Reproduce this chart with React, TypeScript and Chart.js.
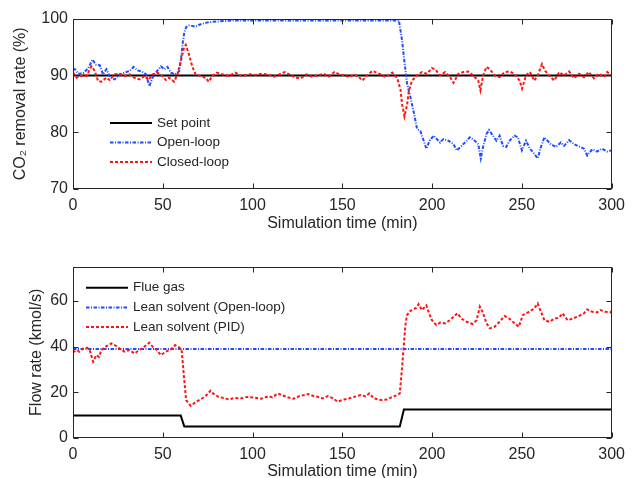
import React, { useEffect, useRef } from 'react';
import { Chart, registerables } from 'chart.js';

Chart.register(...registerables);

// ---------- data ----------
const X_TICKS = [0, 50, 100, 150, 200, 250, 300];
const Y1_TICKS = [70, 80, 90, 100];
const Y2_TICKS = [0, 20, 40, 60];

// top panel: CO2 removal rate (%) vs simulation time (min)
const SET_POINT: [number, number][] = [[0, 90], [300, 90]];

const OPEN_LOOP: [number, number][] = [
  [0, 91.0], [1, 91.1], [3, 90.3], [5.7, 90.4], [8.5, 91.3], [10.9, 92.8], [12.7, 91.9], [14.9, 91.8],
  [16.7, 90.2], [18.6, 91.1], [20.8, 89.6], [23.2, 89.3], [26, 90.2], [28.7, 90.5], [31.5, 90.8],
  [33.7, 91.5], [36, 90.9], [38.4, 90.7], [40.7, 90.2], [42.5, 88.1], [44.3, 89.6], [46.6, 90.7],
  [49, 91.6], [50.8, 91.1], [52.6, 91.5], [54.5, 90.5], [56.9, 90.2], [58.2, 90.5], [59.2, 90.8],
  [60.2, 93.0], [61, 95.5], [62, 97.6], [63, 98.5], [64.6, 98.8], [66.5, 98.7], [68.3, 98.6],
  [70, 98.9], [72, 99.1], [75.6, 99.4], [80, 99.5], [85, 99.6], [90, 99.7], [120, 99.7],
  [150, 99.7], [181.5, 99.7], [183.3, 96.1], [184.2, 93.5], [185.2, 90.8], [186.1, 88.5],
  [187.9, 86.2], [189.8, 83.5], [191.6, 80.6], [193.5, 80.2], [195.3, 78.5], [196.8, 77.1],
  [198.6, 78.5], [200.8, 79.4], [202.6, 78.8], [204.5, 78.2], [206.3, 78.8], [209.1, 78.5],
  [211.9, 77.9], [213.7, 76.8], [216.5, 77.6], [219.2, 78.5], [221, 79.1], [223.8, 78.5],
  [225.7, 77.9], [227.1, 75.4], [228.4, 77.4], [230.3, 79.7], [231.7, 80.4], [233.9, 79.4],
  [235.8, 78.5], [237.6, 79.4], [239.5, 77.6], [241.3, 77.4], [243.1, 78.5], [245.9, 79.4],
  [247.8, 79.1], [250, 76.8], [252.3, 78.5], [254.5, 77.1], [256.9, 76.2], [258.8, 75.4],
  [260.6, 77.4], [262.5, 79.1], [264.3, 78.5], [266.1, 77.9], [268.9, 77.4], [271.7, 78.2],
  [273.5, 77.6], [276.3, 78.6], [279, 77.9], [281.8, 77.5], [284.6, 77.1], [286.4, 75.9],
  [289.2, 77.0], [291.9, 76.6], [294.7, 77.1], [297.5, 76.6], [300, 76.8],
];

const CLOSED_LOOP: [number, number][] = [
  [0, 90.5], [2, 89.6], [4.6, 90.0], [7.4, 89.9], [10.3, 91.6], [12.1, 90.8], [14, 89.0], [15.8, 88.9],
  [18.6, 89.6], [20.4, 89.2], [23.2, 90.2], [26, 90.3], [28.7, 89.9], [31.5, 90.2], [34.2, 89.6],
  [37, 89.3], [39.8, 89.9], [42.1, 89.2], [44.3, 90.2], [47.1, 90.5], [49.8, 89.9], [51.7, 89.2],
  [53.5, 89.6], [56.3, 88.9], [58.2, 90.2], [60, 92.5], [61.8, 94.9], [62.8, 95.4], [64.6, 93.7],
  [66.4, 91.6], [68.3, 90.2], [71, 89.9], [73.8, 89.6], [75.6, 88.9], [77.5, 89.9], [80.2, 90.5],
  [83, 90.2], [86.7, 89.9], [90.4, 90.5], [94, 89.9], [97.8, 90.2], [101.5, 90.1], [105.2, 90.3],
  [108.8, 90.1], [112, 89.8], [115, 90.2], [118, 90.6], [121, 90.1], [124, 89.6], [127, 89.5],
  [130, 90.2], [133, 89.8], [136.4, 90.0], [139.5, 90.3], [142.5, 89.8], [145.6, 90.6], [148.5, 90.2],
  [151.5, 90.0], [154, 89.7], [156.6, 90.2], [159, 89.8], [161.2, 89.1], [164, 90.1], [166.8, 90.8],
  [170.5, 90.3], [174.2, 89.7], [177.8, 90.5], [180.6, 89.5], [182.4, 87.5], [183.3, 84.9],
  [184.6, 82.8], [186.1, 84.9], [187, 87.2], [188.8, 89.1], [191.6, 90.0], [194.3, 90.6],
  [197.1, 90.3], [199.9, 91.3], [201.7, 91.1], [204.5, 90.0], [207.2, 90.6], [210, 89.7],
  [211.9, 88.7], [214.6, 90.3], [217.4, 90.6], [220.1, 90.7], [222.9, 90.0], [225.7, 89.1],
  [226.9, 87.4], [228.4, 90.0], [230.3, 91.5], [232.1, 91.1], [234.8, 90.0], [237.6, 89.7],
  [240.4, 90.6], [243.1, 90.7], [245.9, 90.3], [248.7, 89.1], [250.1, 87.7], [252.3, 90.0],
  [254.5, 90.6], [256.9, 89.1], [258.8, 90.0], [261.2, 92.0], [263, 90.8], [265.2, 90.0],
  [268, 89.1], [270.8, 90.6], [273.5, 90.0], [276.3, 90.7], [279, 89.5], [281.8, 90.3],
  [284.6, 89.7], [287.3, 90.6], [290.1, 89.5], [292.9, 90.3], [295.6, 89.7], [297.5, 90.6], [300, 90.0],
];

// bottom panel: flow rate (kmol/s) vs simulation time (min)
const FLUE_GAS: [number, number][] = [[0, 9.8], [60, 9.8], [62, 5.0], [182, 5.0], [184.3, 12.5], [300, 12.5]];
const LEAN_OPEN: [number, number][] = [[0, 39], [300, 39]];
const LEAN_PID: [number, number][] = [
  [0, 37.5], [2, 38.5], [3.5, 37.8], [5.7, 39.2], [8, 39.5], [9.5, 38.0], [11.2, 33.4], [13, 36.3],
  [14.5, 35.5], [15.8, 38.5], [18.8, 40.3], [21.3, 41.4], [23.2, 40.7], [26, 39.2], [28.7, 37.8],
  [31.5, 38.5], [34.2, 37.0], [37, 38.5], [39.8, 40.0], [42.5, 41.7], [44.3, 40.0], [46.6, 38.5],
  [49, 36.3], [51.7, 37.8], [54.5, 38.8], [56.9, 40.7], [59, 39.7], [60.5, 38.5], [61.8, 26.8],
  [63, 16.6], [65.5, 14.1], [68, 15.5], [70, 16.5], [72, 17.4], [74, 18.5], [76.6, 20.7], [78, 19.5],
  [81, 18.0], [84, 17.5], [86.7, 16.9], [90, 17.5], [94, 17.4], [97, 18.0], [101, 17.7], [105, 17.2],
  [108.8, 18.3], [111, 17.8], [114, 19.5], [117, 18.6], [120, 17.7], [123, 17.2], [126, 18.3],
  [131, 19.2], [133.5, 18.5], [136.4, 18.0], [139, 17.3], [141.9, 18.3], [144.5, 17.5], [147.4, 15.9],
  [151, 16.9], [154, 17.4], [156.6, 18.0], [160.3, 18.8], [163, 18.2], [165, 19.5], [167.7, 17.3],
  [171.4, 16.6], [175, 16.9], [177.8, 18.0], [180.6, 18.8], [182, 19.5], [183.3, 31.2], [184.2, 40.0],
  [185, 48.7], [186, 53.8], [187.9, 55.7], [189.5, 56.2], [191.6, 57.2], [192.5, 58.6], [194.3, 56.0],
  [196.8, 58.1], [198, 55.3], [199.9, 51.6], [202.3, 49.5], [204.5, 50.5], [207.2, 50.2], [210, 51.6],
  [211.9, 53.1], [214.1, 54.6], [216.5, 52.2], [219.2, 50.9], [222.5, 49.9], [224.8, 51.6],
  [226.6, 57.5], [228.4, 54.6], [230.3, 50.2], [232.1, 48.0], [234.8, 48.7], [237.6, 50.9],
  [240.4, 53.4], [243.1, 52.2], [245.9, 50.2], [248.3, 48.7], [250.5, 53.8], [252.3, 54.6],
  [254.2, 55.3], [256.9, 56.7], [258.8, 58.9], [260.6, 55.3], [262.5, 51.6], [265.2, 50.9],
  [268, 52.2], [270.8, 52.7], [272.6, 54.6], [275.4, 51.6], [278.1, 52.2], [281.8, 53.4],
  [284.6, 54.6], [286.4, 56.3], [289.2, 55.3], [291.9, 55.0], [293.7, 56.0], [296.5, 55.3],
  [299.3, 55.0], [300, 55.5],
];

// ---------- styling ----------
const FONT = '"Liberation Sans", Arial, Helvetica, sans-serif';
const INK = '#262626';
const BLUE = '#1f4dff';
const RED = '#ff1414';
const BLUE_DASH = [3.5, 1.5, 1, 1.5];
const RED_DASH = [3, 2];

const toXY = (arr: [number, number][]) => arr.map(([x, y]) => ({ x, y }));

const framePlugin = {
  id: 'frame',
  afterDraw(chart: any, _args: any, opts: any) {
    const { ctx, chartArea: a, scales } = chart;
    const L = Math.round(a.left) + 0.5;
    const R = Math.round(a.right) - 0.5;
    const T = Math.round(a.top) + 0.5;
    const B = Math.round(a.bottom) - 0.5;
    ctx.save();
    ctx.strokeStyle = INK;
    ctx.lineWidth = 1;
    ctx.setLineDash([]);
    ctx.strokeRect(L, T, R - L, B - T);
    const tl = 5;
    ctx.beginPath();
    for (const t of scales.x.ticks) {
      const px = Math.round(scales.x.getPixelForValue(t.value)) + 0.5;
      ctx.moveTo(px, B); ctx.lineTo(px, B - tl);
      ctx.moveTo(px, T); ctx.lineTo(px, T + tl);
    }
    for (const t of scales.y.ticks) {
      const py = Math.round(scales.y.getPixelForValue(t.value)) + 0.5;
      ctx.moveTo(L, py); ctx.lineTo(L + tl, py);
      ctx.moveTo(R, py); ctx.lineTo(R - tl, py);
    }
    ctx.stroke();

    // legend inside the plot
    const lg = opts.legend;
    chart.data.datasets.forEach((ds: any, i: number) => {
      const y = lg.y + i * lg.dy;
      ctx.beginPath();
      ctx.strokeStyle = ds.borderColor;
      ctx.lineWidth = ds.borderWidth;
      ctx.setLineDash(ds.borderDash || []);
      ctx.moveTo(lg.x1, y);
      ctx.lineTo(lg.x2, y);
      ctx.stroke();
      ctx.setLineDash([]);
      ctx.fillStyle = INK;
      ctx.font = `13.5px ${FONT}`;
      ctx.textBaseline = 'middle';
      ctx.textAlign = 'left';
      ctx.fillText(ds.label, lg.tx, y);
    });
    ctx.restore();
  },
};

function buildConfig(p: {
  datasets: any[];
  yMin: number; yMax: number; yTicks: number[]; yTitle: string; yTitlePad: number;
  padTop: number; xAxisH: number; xTitlePad: number; legend: any;
}) {
  const tickFont = { family: FONT, size: 16 };
  return {
    type: 'line',
    data: { datasets: p.datasets },
    plugins: [framePlugin],
    options: {
      animation: false,
      responsive: false,
      events: [],
      layout: { padding: { top: p.padTop, right: 16, left: 0, bottom: 0 } },
      elements: { point: { radius: 0 }, line: { tension: 0 } },
      plugins: {
        legend: { display: false },
        tooltip: { enabled: false },
        frame: { legend: p.legend },
      },
      scales: {
        x: {
          type: 'linear', min: 0, max: 300,
          afterBuildTicks: (s: any) => { s.ticks = X_TICKS.map((v) => ({ value: v })); },
          afterFit: (s: any) => { s.height = p.xAxisH; },
          grid: { display: false, drawTicks: false },
          border: { display: false },
          ticks: { font: tickFont, color: INK, padding: 7, maxRotation: 0, autoSkip: false },
          title: {
            display: true, text: 'Simulation time (min)', color: INK,
            font: { family: FONT, size: 16, lineHeight: 1 },
            padding: { top: 0, bottom: p.xTitlePad },
          },
        },
        y: {
          type: 'linear', min: p.yMin, max: p.yMax,
          afterBuildTicks: (s: any) => { s.ticks = p.yTicks.map((v) => ({ value: v })); },
          afterFit: (s: any) => { s.width = 73; },
          grid: { display: false, drawTicks: false },
          border: { display: false },
          ticks: { font: tickFont, color: INK, padding: 5, autoSkip: false },
          title: {
            display: true, text: p.yTitle, color: INK,
            font: { family: FONT, size: 16, lineHeight: 1 },
            padding: { top: p.yTitlePad, bottom: 0 },
          },
        },
      },
    },
  };
}

function ChartCanvas({ config, width, height, top }: any) {
  const ref = useRef<HTMLCanvasElement>(null);
  useEffect(() => {
    const chart = new Chart(ref.current as HTMLCanvasElement, config);
    return () => chart.destroy();
  }, []);
  return (
    <canvas
      ref={ref}
      width={width}
      height={height}
      style={{ position: 'absolute', left: 0, top, width, height, display: 'block' }}
    />
  );
}

const line = (label: string, data: [number, number][], color: string, dash: number[], order: number) => ({
  label,
  data: toXY(data),
  borderColor: color,
  backgroundColor: color,
  borderWidth: 2,
  borderDash: dash,
  fill: false,
  order,
});

export default function App() {
  const topConfig = buildConfig({
    datasets: [
      line('Set point', SET_POINT, '#000000', [], 2),
      line('Open-loop', OPEN_LOOP, BLUE, BLUE_DASH, 1),
      line('Closed-loop', CLOSED_LOOP, RED, RED_DASH, 0),
    ],
    yMin: 70, yMax: 100, yTicks: Y1_TICKS, yTitle: 'CO₂ removal rate (%)', yTitlePad: 13,
    padTop: 18.7, xAxisH: 51, xTitlePad: 8,
    legend: { x1: 110, x2: 152, tx: 157, y: 123, dy: 19.5 },
  });
  const bottomConfig = buildConfig({
    datasets: [
      line('Flue gas', FLUE_GAS, '#000000', [], 2),
      line('Lean solvent (Open-loop)', LEAN_OPEN, BLUE, BLUE_DASH, 1),
      line('Lean solvent (PID)', LEAN_PID, RED, RED_DASH, 0),
    ],
    yMin: 0, yMax: 75, yTicks: Y2_TICKS, yTitle: 'Flow rate (kmol/s)', yTitlePad: 29,
    padTop: 26.7, xAxisH: 40, xTitlePad: -2,
    legend: { x1: 86, x2: 128, tx: 133, y: 47.7, dy: 19.7 },
  });
  return (
    <div style={{ position: 'fixed', left: 0, top: 0, width: 632, height: 478, background: '#ffffff' }}>
      <ChartCanvas config={topConfig} width={632} height={240} top={0} />
      <ChartCanvas config={bottomConfig} width={632} height={238} top={240} />
    </div>
  );
}
